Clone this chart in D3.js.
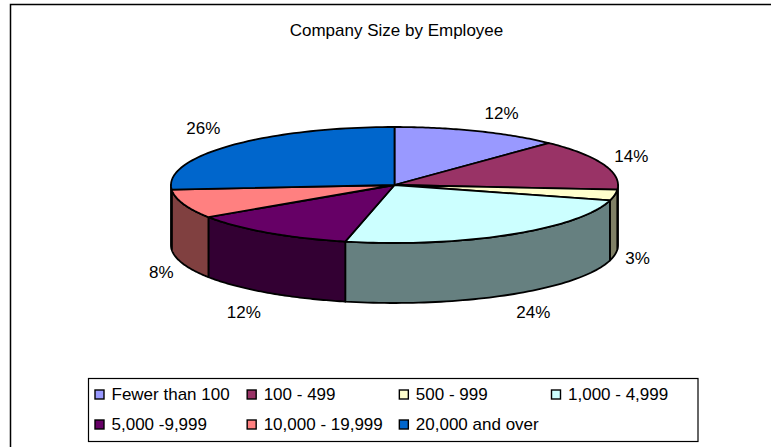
<!DOCTYPE html>
<html><head><meta charset="utf-8">
<style>html,body{margin:0;padding:0;background:#fff}svg{display:block}text{font-family:"Liberation Sans",Arial,sans-serif;fill:#000}</style>
<script src="https://cdn.jsdelivr.net/npm/d3@7"></script></head>
<body><svg id="c" width="771" height="447"></svg>
<script>
const categories = ["Fewer than 100","100 - 499","500 - 999","1,000 - 4,999","5,000 -9,999","10,000 - 19,999","20,000 and over"];
const shares = [12,14,3,24,12,8,26];
const topColors = ["#9999ff","#993366","#ffffcc","#ccffff","#660066","#ff8080","#0066cc"];
const sideColors = ["#4d4d80","#4d1a33","#808066","#668080","#330033","#804040","#003366"];
const labelNudges = [[24,-18],[28,-8],[23,63],[24,78],[-24,80],[-22,69],[-27,-17]];

const svg = d3.select("#c");
const cx = 394.5, cy = 185, rx = 223.5, ry = 58, depth = 60;
const fontSize = 17;
const xUnit = d3.scaleLinear().domain([-1,1]).range([cx-rx,cx+rx]);
const yUnit = d3.scaleLinear().domain([-1,1]).range([cy-ry,cy+ry]);
const px = a => xUnit(Math.sin(a));
const py = a => yUnit(-Math.cos(a));
const line = d3.line();
const arcs = d3.pie().sort(null).startAngle(0).endAngle(2*Math.PI)(shares);
const sweep = (a0,a1,dy=0) => d3.range(0,61).map(i=>{const a=a0+(a1-a0)*i/60;return [px(a),py(a)+dy];});

// chart frame: open on the right and running off the bottom of the page
svg.append("path").attr("d","M10.5,447V4.5H771").attr("fill","none").attr("stroke","#000").attr("stroke-width",1.5);

// walls along the front half of the rim
const front0 = Math.PI/2, front1 = 3*Math.PI/2;
svg.append("g").selectAll("path").data(arcs.filter(d=>d.endAngle>front0&&d.startAngle<front1)).join("path")
  .attr("d",d=>{
    const a0=Math.max(d.startAngle,front0), a1=Math.min(d.endAngle,front1);
    return line(sweep(a0,a1).concat(sweep(a1,a0,depth)))+"Z";
  })
  .attr("fill",d=>sideColors[d.index]).attr("stroke","#000").attr("stroke-width",1.8).attr("stroke-linejoin","round");

// top face
svg.append("g").selectAll("path").data(arcs).join("path")
  .attr("d",d=>line([[cx,cy]].concat(sweep(d.startAngle,d.endAngle)))+"Z")
  .attr("fill",d=>topColors[d.index]).attr("stroke","#000").attr("stroke-width",1.8).attr("stroke-linejoin","round");

// percentage labels
svg.append("g").selectAll("text").data(arcs).join("text")
  .attr("x",d=>px((d.startAngle+d.endAngle)/2)+labelNudges[d.index][0])
  .attr("y",d=>py((d.startAngle+d.endAngle)/2)+labelNudges[d.index][1])
  .attr("text-anchor","middle").attr("font-size",fontSize).attr("dominant-baseline","central")
  .text(d=>d.data+"%");

svg.append("text").attr("x",396.5).attr("y",30).attr("text-anchor","middle").attr("dominant-baseline","central")
  .attr("font-size",fontSize).text("Company Size by Employee");

// legend
svg.append("rect").attr("x",88.5).attr("y",378.5).attr("width",609.5).attr("height",63).attr("fill","#fff").attr("stroke","#000").attr("stroke-width",1.2);
const legendCol = d3.scalePoint().domain(d3.range(4)).range([94.5,551]);
const legendRow = d3.scalePoint().domain([0,1]).range([394.5,424.5]);
const item = svg.append("g").selectAll("g").data(categories).join("g")
  .attr("transform",(d,i)=>`translate(${legendCol(i%4)},${legendRow(Math.floor(i/4))})`);
item.append("rect").attr("x",0.5).attr("y",-4.5).attr("width",9).attr("height",9)
  .attr("fill",(d,i)=>topColors[i]).attr("stroke","#000").attr("stroke-width",1.4);
item.append("text").attr("x",17).attr("dominant-baseline","central").attr("font-size",fontSize).text(d=>d);
</script></body></html>
